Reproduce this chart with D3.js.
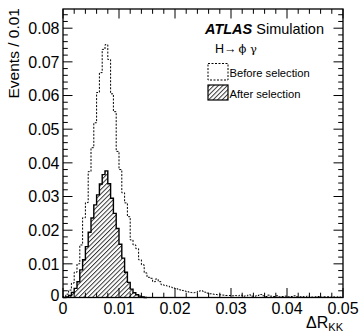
<!DOCTYPE html>
<html><head><meta charset="utf-8">
<script src="https://cdn.jsdelivr.net/npm/d3@7"></script>
<style>
html,body{margin:0;padding:0;background:#fff;}
text{font-family:"Liberation Sans",Arial,Helvetica,sans-serif;}
</style></head>
<body>
<svg id="c" width="361" height="336"></svg>
<script>
// ---- data ----
const binWidth = 0.0005;
const xTicks = [0, 0.01, 0.02, 0.03, 0.04, 0.05];
const xTickLabels = ["0", "0.01", "0.02", "0.03", "0.04", "0.05"];
const yTicks = [0, 0.01, 0.02, 0.03, 0.04, 0.05, 0.06, 0.07, 0.08];
const yTickLabels = ["0", "0.01", "0.02", "0.03", "0.04", "0.05", "0.06", "0.07", "0.08"];
// "Before selection" (dashed), 100 bins from 0 to 0.05
const beforeSel = [
  0.0003, 0.0010, 0.0022, 0.0043, 0.0075, 0.0100, 0.0156, 0.0237, 0.0282, 0.0374,
  0.0445, 0.0519, 0.0609, 0.0668, 0.0737, 0.0751, 0.0707, 0.0605, 0.0552, 0.0434,
  0.0380, 0.0311, 0.0281, 0.0240, 0.0171, 0.0156, 0.0145, 0.0112, 0.0097, 0.0073,
  0.0060, 0.0057, 0.0047, 0.0055, 0.0047, 0.0038, 0.0036, 0.0034, 0.0031, 0.0028,
  0.0026, 0.0023, 0.0021, 0.0019, 0.0017, 0.0015, 0.0014, 0.0015, 0.0019, 0.0020,
  0.0016, 0.0013, 0.0011, 0.0010, 0.0009, 0.0008, 0.0008, 0.0007, 0.0006, 0.0006,
  0.0005, 0.0006, 0.0005, 0.0007, 0.0004, 0.0005, 0.0008, 0.0004, 0.0004, 0.0006,
  0.0009, 0.0005, 0.0003, 0.0007, 0.0004, 0.0003, 0.0005, 0.0002, 0.0003, 0.0004,
  0.0002, 0.0003, 0.0005, 0.0002, 0.0002, 0.0003, 0.0002, 0.0004, 0.0002, 0.0001,
  0.0002, 0.0003, 0.0001, 0.0002, 0.0002, 0.0001, 0.0002, 0.0001, 0.0002, 0.0001
];
// "After selection" (hatched)
const afterSel = [
  0, 0.0002, 0.0006, 0.0015, 0.0027, 0.0047, 0.0082, 0.0112, 0.0151, 0.0194,
  0.0236, 0.0275, 0.0305, 0.0337, 0.0365, 0.0376, 0.0338, 0.0295, 0.0250, 0.0205,
  0.0158, 0.0117, 0.0075, 0.0045, 0.0025, 0.0014, 0.0008, 0.0004, 0.0002, 0
];

// ---- layout ----
const L = 63, R = 343, T = 9, B = 297.5;
const svg = d3.select("#c");
const x = d3.scaleLinear().domain([0, 0.05]).range([L, R]);
const y = d3.scaleLinear().domain([0, 0.0857]).range([B, T]);

// hatch pattern
const defs = svg.append("defs");
const pat = defs.append("pattern").attr("id", "hatch").attr("patternUnits", "userSpaceOnUse")
  .attr("width", 3.2).attr("height", 3.2).attr("patternTransform", "rotate(45)");
pat.append("line").attr("x1", 0.5).attr("y1", 0).attr("x2", 0.5).attr("y2", 3.2)
  .attr("stroke", "#222").attr("stroke-width", 0.9);

function pts(vals) {
  const p = [{x: 0, y: 0}];
  vals.forEach((v, i) => p.push({x: i * binWidth, y: v}));
  p.push({x: vals.length * binWidth, y: 0});
  return p;
}

const line = d3.line().curve(d3.curveStepAfter).x(d => x(d.x)).y(d => y(d.y));
const area = d3.area().curve(d3.curveStepAfter).x(d => x(d.x)).y0(y(0)).y1(d => y(d.y));

// before selection (dashed)
svg.append("path").attr("d", line(pts(beforeSel))).attr("fill", "none")
  .attr("stroke", "#000").attr("stroke-width", 1).attr("stroke-dasharray", "2,1.5");

// after selection (hatched)
const ap = pts(afterSel);
svg.append("path").attr("d", area(ap)).attr("fill", "url(#hatch)");
svg.append("path").attr("d", line(ap)).attr("fill", "none")
  .attr("stroke", "#000").attr("stroke-width", 1.4);

// frame
svg.append("rect").attr("x", L).attr("y", T).attr("width", R - L).attr("height", B - T)
  .attr("fill", "none").attr("stroke", "#000").attr("stroke-width", 1.3);

// ticks
const maj = 9.5, mnr = 4.8;
const xMinor = d3.range(0, 50.5, 2).map(v => v / 1000);
const yMinor = d3.range(0, 86, 2).map(v => v / 1000).filter(v => v <= 0.0857);
const tg = svg.append("g").attr("stroke", "#000").attr("stroke-width", 1);
xMinor.forEach(v => {
  const isMaj = Math.abs(v * 100 - Math.round(v * 100)) < 1e-6;
  const len = isMaj ? maj : mnr;
  tg.append("line").attr("x1", x(v)).attr("x2", x(v)).attr("y1", B).attr("y2", B - len);
  tg.append("line").attr("x1", x(v)).attr("x2", x(v)).attr("y1", T).attr("y2", T + len);
});
yMinor.forEach(v => {
  const isMaj = Math.abs(v * 100 - Math.round(v * 100)) < 1e-6;
  const len = isMaj ? maj : mnr;
  tg.append("line").attr("x1", L).attr("x2", L + len).attr("y1", y(v)).attr("y2", y(v));
  tg.append("line").attr("x1", R).attr("x2", R - len).attr("y1", y(v)).attr("y2", y(v));
});

// tick labels
xTicks.forEach((v, i) => {
  svg.append("text").attr("x", x(v)).attr("y", 313.5).attr("text-anchor", "middle")
    .attr("font-size", 16).text(xTickLabels[i]);
});
yTicks.forEach((v, i) => {
  svg.append("text").attr("x", 59.5).attr("y", y(v) + (i === 0 ? 3.5 : 5.8)).attr("text-anchor", "end")
    .attr("font-size", 16).text(yTickLabels[i]);
});

// axis titles
svg.append("text").attr("transform", "translate(18.5,8) rotate(-90)").attr("text-anchor", "end")
  .attr("font-size", 15.5).text("Events / 0.01");
const xt = svg.append("text").attr("x", 343).attr("y", 328).attr("text-anchor", "end").attr("font-size", 16);
xt.append("tspan").text("ΔR");
xt.append("tspan").attr("font-size", 11).attr("dy", 3).text("KK");

// labels / legend
const at = svg.append("text").attr("x", 205).attr("y", 33.5).attr("font-size", 14.5);
at.append("tspan").attr("font-weight", "bold").attr("font-style", "italic").text("ATLAS");
at.append("tspan").text(" Simulation");
const hp = svg.append("text").attr("x", 215).attr("y", 53).attr("font-size", 12.5);
hp.append("tspan").text("H\u2192");
hp.append("tspan").attr("font-family", "DejaVu Serif").attr("font-size", 11.5).attr("dx", 2).text("\u03d5 \u03b3");

svg.append("rect").attr("x", 208).attr("y", 63.5).attr("width", 20).attr("height", 16.5)
  .attr("fill", "none").attr("stroke", "#000").attr("stroke-width", 1).attr("stroke-dasharray", "2,1.5");
svg.append("text").attr("x", 229.5).attr("y", 76.5).attr("font-size", 11.2).text("Before selection");
svg.append("rect").attr("x", 208).attr("y", 85).attr("width", 20).attr("height", 15)
  .attr("fill", "url(#hatch)").attr("stroke", "#000").attr("stroke-width", 1.2);
svg.append("text").attr("x", 229.5).attr("y", 97.5).attr("font-size", 11.2).text("After selection");
</script>
</body></html>
